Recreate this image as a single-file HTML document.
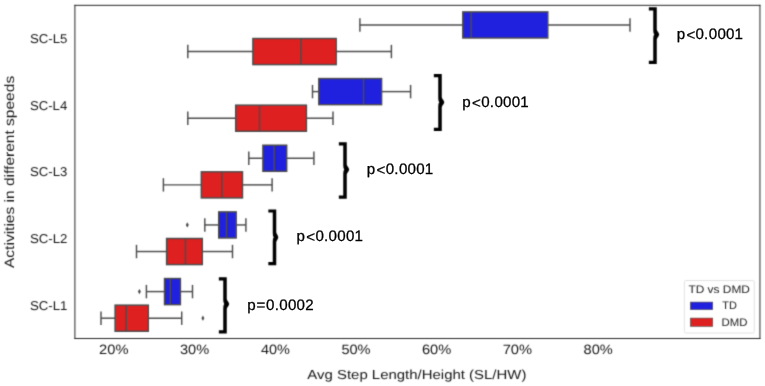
<!DOCTYPE html><html><head><meta charset="utf-8"><style>html,body{margin:0;padding:0;background:#fff;overflow:hidden}svg{display:block;will-change:transform}text{font-family:"Liberation Sans", sans-serif;text-rendering:geometricPrecision}</style></head><body>
<svg width="765" height="386" viewBox="0 0 765 386">
<defs><filter id="bl" x="0" y="0" width="765" height="386" filterUnits="userSpaceOnUse" color-interpolation-filters="sRGB"><feConvolveMatrix order="3" kernelMatrix="25 108 25 108 465 108 25 108 25" divisor="997" edgeMode="duplicate"/></filter></defs>
<rect width="765" height="386" fill="#fff"/>
<g filter="url(#bl)">
<g stroke="#4c4c4c" stroke-width="1.45"><line x1="359.9" y1="24.95" x2="462.8" y2="24.95"/><line x1="547.8" y1="24.95" x2="630.0" y2="24.95"/><line x1="359.9" y1="18.25" x2="359.9" y2="31.65"/><line x1="630.0" y1="18.25" x2="630.0" y2="31.65"/></g>
<rect x="462.8" y="11.899999999999999" width="85.00" height="26.1" fill="#2020df" stroke="#4c4c4c" stroke-width="1.45"/>
<line x1="471.1" y1="11.899999999999999" x2="471.1" y2="38.0" stroke="#4c4c4c" stroke-width="1.45"/>
<g stroke="#4c4c4c" stroke-width="1.45"><line x1="187.8" y1="51.55" x2="252.9" y2="51.55"/><line x1="336.2" y1="51.55" x2="391.4" y2="51.55"/><line x1="187.8" y1="44.849999999999994" x2="187.8" y2="58.25"/><line x1="391.4" y1="44.849999999999994" x2="391.4" y2="58.25"/></g>
<rect x="252.9" y="38.5" width="83.30" height="26.1" fill="#df2020" stroke="#4c4c4c" stroke-width="1.45"/>
<line x1="300.9" y1="38.5" x2="300.9" y2="64.6" stroke="#4c4c4c" stroke-width="1.45"/>
<g stroke="#4c4c4c" stroke-width="1.45"><line x1="312.5" y1="91.61" x2="318.8" y2="91.61"/><line x1="381.6" y1="91.61" x2="410.6" y2="91.61"/><line x1="312.5" y1="84.91" x2="312.5" y2="98.31"/><line x1="410.6" y1="84.91" x2="410.6" y2="98.31"/></g>
<rect x="318.8" y="78.56" width="62.80" height="26.1" fill="#2020df" stroke="#4c4c4c" stroke-width="1.45"/>
<line x1="363.5" y1="78.56" x2="363.5" y2="104.66" stroke="#4c4c4c" stroke-width="1.45"/>
<g stroke="#4c4c4c" stroke-width="1.45"><line x1="187.8" y1="118.21" x2="235.7" y2="118.21"/><line x1="306.4" y1="118.21" x2="333.0" y2="118.21"/><line x1="187.8" y1="111.50999999999999" x2="187.8" y2="124.91"/><line x1="333.0" y1="111.50999999999999" x2="333.0" y2="124.91"/></g>
<rect x="235.7" y="105.16" width="70.70" height="26.1" fill="#df2020" stroke="#4c4c4c" stroke-width="1.45"/>
<line x1="259.5" y1="105.16" x2="259.5" y2="131.26" stroke="#4c4c4c" stroke-width="1.45"/>
<g stroke="#4c4c4c" stroke-width="1.45"><line x1="248.8" y1="158.26999999999998" x2="262.9" y2="158.26999999999998"/><line x1="286.7" y1="158.26999999999998" x2="313.9" y2="158.26999999999998"/><line x1="248.8" y1="151.57" x2="248.8" y2="164.96999999999997"/><line x1="313.9" y1="151.57" x2="313.9" y2="164.96999999999997"/></g>
<rect x="262.9" y="145.21999999999997" width="23.80" height="26.1" fill="#2020df" stroke="#4c4c4c" stroke-width="1.45"/>
<line x1="274.1" y1="145.21999999999997" x2="274.1" y2="171.32" stroke="#4c4c4c" stroke-width="1.45"/>
<g stroke="#4c4c4c" stroke-width="1.45"><line x1="163.4" y1="184.87" x2="201.3" y2="184.87"/><line x1="242.5" y1="184.87" x2="272.1" y2="184.87"/><line x1="163.4" y1="178.17000000000002" x2="163.4" y2="191.57"/><line x1="272.1" y1="178.17000000000002" x2="272.1" y2="191.57"/></g>
<rect x="201.3" y="171.82" width="41.20" height="26.1" fill="#df2020" stroke="#4c4c4c" stroke-width="1.45"/>
<line x1="221.8" y1="171.82" x2="221.8" y2="197.92000000000002" stroke="#4c4c4c" stroke-width="1.45"/>
<g stroke="#4c4c4c" stroke-width="1.45"><line x1="204.8" y1="224.92999999999998" x2="218.7" y2="224.92999999999998"/><line x1="236.2" y1="224.92999999999998" x2="245.9" y2="224.92999999999998"/><line x1="204.8" y1="218.23" x2="204.8" y2="231.62999999999997"/><line x1="245.9" y1="218.23" x2="245.9" y2="231.62999999999997"/></g>
<rect x="218.7" y="211.87999999999997" width="17.50" height="26.1" fill="#2020df" stroke="#4c4c4c" stroke-width="1.45"/>
<line x1="226.5" y1="211.87999999999997" x2="226.5" y2="237.98" stroke="#4c4c4c" stroke-width="1.45"/>
<path d="M187.3 222.33L188.8 224.93L187.3 227.53L185.8 224.93Z" fill="#4c4c4c"/>
<g stroke="#4c4c4c" stroke-width="1.45"><line x1="136.5" y1="251.53" x2="166.6" y2="251.53"/><line x1="202.3" y1="251.53" x2="232.5" y2="251.53"/><line x1="136.5" y1="244.83" x2="136.5" y2="258.23"/><line x1="232.5" y1="244.83" x2="232.5" y2="258.23"/></g>
<rect x="166.6" y="238.48" width="35.70" height="26.1" fill="#df2020" stroke="#4c4c4c" stroke-width="1.45"/>
<line x1="185.4" y1="238.48" x2="185.4" y2="264.58" stroke="#4c4c4c" stroke-width="1.45"/>
<g stroke="#4c4c4c" stroke-width="1.45"><line x1="146.4" y1="291.59" x2="164.5" y2="291.59"/><line x1="180.4" y1="291.59" x2="192.5" y2="291.59"/><line x1="146.4" y1="284.89" x2="146.4" y2="298.28999999999996"/><line x1="192.5" y1="284.89" x2="192.5" y2="298.28999999999996"/></g>
<rect x="164.5" y="278.53999999999996" width="15.90" height="26.1" fill="#2020df" stroke="#4c4c4c" stroke-width="1.45"/>
<line x1="170.3" y1="278.53999999999996" x2="170.3" y2="304.64" stroke="#4c4c4c" stroke-width="1.45"/>
<path d="M139.4 288.99L140.9 291.59L139.4 294.19L137.9 291.59Z" fill="#4c4c4c"/>
<g stroke="#4c4c4c" stroke-width="1.45"><line x1="101.0" y1="318.19" x2="115.1" y2="318.19"/><line x1="148.3" y1="318.19" x2="181.7" y2="318.19"/><line x1="101.0" y1="311.49" x2="101.0" y2="324.89"/><line x1="181.7" y1="311.49" x2="181.7" y2="324.89"/></g>
<rect x="115.1" y="305.14" width="33.20" height="26.1" fill="#df2020" stroke="#4c4c4c" stroke-width="1.45"/>
<line x1="126.1" y1="305.14" x2="126.1" y2="331.24" stroke="#4c4c4c" stroke-width="1.45"/>
<path d="M202.9 315.59L204.4 318.19L202.9 320.79L201.4 318.19Z" fill="#4c4c4c"/>
<g stroke="#262626" stroke-width="1.0" fill="none" stroke-linecap="square">
<line x1="74.9" y1="5.35" x2="74.9" y2="338.5"/>
<line x1="759.95" y1="5.35" x2="759.95" y2="338.5"/>
<line x1="74.9" y1="5.35" x2="759.95" y2="5.35"/>
<line x1="74.9" y1="338.5" x2="759.95" y2="338.5"/>
</g>
<path d="M648.85 7.30H656.75V29.50C656.95 31.50 659.15 32.50 659.15 34.50C659.15 36.50 656.95 37.50 656.75 39.50V63.90H648.85V60.70H653.25V38.50Q653.25 35.70 654.25 34.50Q653.25 33.30 653.25 30.50V10.50H648.85Z" fill="#000"/>
<path d="M433.85 74.10H441.75V97.20C441.95 99.20 444.25 100.20 444.25 102.20C444.25 104.20 441.95 105.20 441.75 107.20V131.00H433.85V127.80H438.25V106.20Q438.25 103.40 439.25 102.20Q438.25 101.00 438.25 98.20V77.30H433.85Z" fill="#000"/>
<path d="M338.85 142.30H346.75V164.40C346.95 166.40 349.15 167.40 349.15 169.40C349.15 171.40 346.95 172.40 346.75 174.40V198.80H338.85V195.60H343.25V173.40Q343.25 170.60 344.25 169.40Q343.25 168.20 343.25 165.40V145.50H338.85Z" fill="#000"/>
<path d="M268.35 209.40H276.25V232.20C276.45 234.20 278.25 235.20 278.25 237.20C278.25 239.20 276.45 240.20 276.25 242.20V265.30H268.35V262.10H272.75V241.20Q272.75 238.40 273.75 237.20Q272.75 236.00 272.75 233.20V212.60H268.35Z" fill="#000"/>
<path d="M218.85 277.30H226.75V299.10C226.95 301.10 229.15 302.10 229.15 304.10C229.15 306.10 226.95 307.10 226.75 309.10V333.50H218.85V330.30H223.25V308.10Q223.25 305.30 224.25 304.10Q223.25 302.90 223.25 300.10V280.50H218.85Z" fill="#000"/>
<text transform="translate(29.94,43.02) scale(1.0276,1)" font-size="12.857" fill="#161616" >SC-L5</text>
<text transform="translate(29.94,109.68) scale(1.0238,1)" font-size="12.857" fill="#161616" >SC-L4</text>
<text transform="translate(29.94,176.34) scale(1.0276,1)" font-size="12.857" fill="#161616" >SC-L3</text>
<text transform="translate(29.94,243.00) scale(1.0313,1)" font-size="12.857" fill="#161616" >SC-L2</text>
<text transform="translate(29.94,309.66) scale(1.0313,1)" font-size="12.857" fill="#161616" >SC-L1</text>
<text transform="translate(99.07,354.00) scale(1.0822,1)" font-size="13.571" fill="#161616" >20%</text>
<text transform="translate(179.94,354.00) scale(1.0766,1)" font-size="13.571" fill="#161616" >30%</text>
<text transform="translate(260.95,354.00) scale(1.0656,1)" font-size="13.571" fill="#161616" >40%</text>
<text transform="translate(341.38,354.00) scale(1.0766,1)" font-size="13.571" fill="#161616" >50%</text>
<text transform="translate(421.95,354.00) scale(1.0822,1)" font-size="13.571" fill="#161616" >60%</text>
<text transform="translate(502.67,354.00) scale(1.0822,1)" font-size="13.571" fill="#161616" >70%</text>
<text transform="translate(583.54,354.00) scale(1.0766,1)" font-size="13.571" fill="#161616" >80%</text>
<text transform="translate(307.30,378.60) scale(1.1499,1)" font-size="13.000" fill="#161616" >Avg Step Length/Height (SL/HW)</text>
<text transform="translate(14.30,268.00) rotate(-90) scale(1.1447,1)" font-size="13.571" fill="#161616">Activities in different speeds</text>
<rect x="684.4" y="280.5" width="69.9" height="52.5" rx="1.5" fill="#fff" fill-opacity="0.8" stroke="#e2e2e2" stroke-width="1"/>
<rect x="690.4" y="302.1" width="22.3" height="7.5" fill="#2020df" stroke="#4c4c4c" stroke-width="0.6"/>
<rect x="690.4" y="318.1" width="22.3" height="8.2" fill="#df2020" stroke="#4c4c4c" stroke-width="0.6"/>
<text transform="translate(688.46,293.00) scale(1.0806,1)" font-size="11.014" fill="#161616" >TD vs DMD</text>
<text transform="translate(722.28,309.40) scale(0.9944,1)" font-size="11.014" fill="#161616" >TD</text>
<text transform="translate(721.59,325.70) scale(1.0346,1)" font-size="11.014" fill="#161616" >DMD</text>
</g>
<text transform="translate(0,39.10) scale(1.0000,1)" x="676.63 686.39 695.60 704.10 708.70 717.40 726.10 734.59" y="0 0.5 0 0 0 0 0 0" font-size="15.100" fill="#000" stroke="#000" stroke-width="0.3">p&lt;0.0001</text>
<text transform="translate(0,107.10) scale(1.0000,1)" x="462.33 472.09 481.30 489.80 494.40 503.10 511.80 520.29" y="0 0.5 0 0 0 0 0 0" font-size="15.100" fill="#000" stroke="#000" stroke-width="0.3">p&lt;0.0001</text>
<text transform="translate(0,174.30) scale(1.0000,1)" x="366.83 376.59 385.80 394.30 398.90 407.60 416.30 424.79" y="0 0.5 0 0 0 0 0 0" font-size="15.100" fill="#000" stroke="#000" stroke-width="0.3">p&lt;0.0001</text>
<text transform="translate(0,241.40) scale(1.0000,1)" x="296.43 306.19 315.40 323.90 328.50 337.20 345.90 354.39" y="0 0.5 0 0 0 0 0 0" font-size="15.100" fill="#000" stroke="#000" stroke-width="0.3">p&lt;0.0001</text>
<text transform="translate(0,309.55) scale(1.0000,1)" x="247.23 256.49 266.00 274.70 279.30 287.90 296.50 305.20" y="0 0.5 0 0 0 0 0 0" font-size="15.100" fill="#000" stroke="#000" stroke-width="0.3">p=0.0002</text>
</svg></body></html>
